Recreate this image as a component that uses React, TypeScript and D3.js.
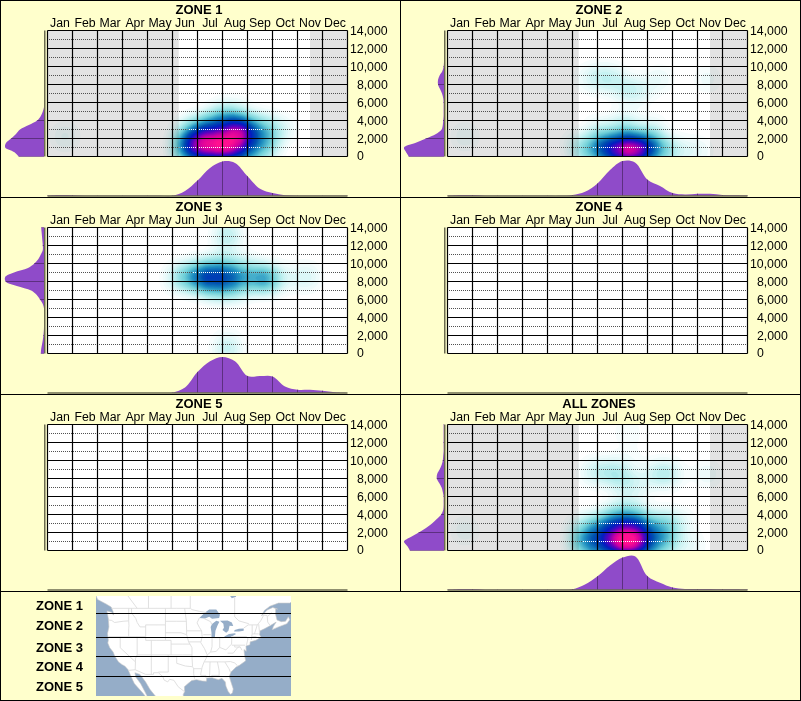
import * as d3 from "d3";
import * as React from "react";

type Kernel = [number, number, number]; // month position, elevation, weight

const MONTHS = ["Jan", "Feb", "Mar", "Apr", "May", "Jun", "Jul", "Aug", "Sep", "Oct", "Nov", "Dec"];
const ELEV_TICKS = [0, 2000, 4000, 6000, 8000, 10000, 12000, 14000];
const ELEV_DOTTED = [1000, 3000, 5000, 7000, 9000, 11000, 13000];

// side curve samples, elevation 0..14000 by 500
const ELEV_STEPS = d3.range(0, 14001, 500);
const zone1Left = [63, 75, 97, 95, 82, 70, 60, 38, 17, 8, 3, 0, 0, 0, 0, 0, 0, 0, 0, 0, 0, 0, 0, 0, 0, 0, 0, 0, 0];
const zone2Left = [88, 95, 100, 72, 45, 20, 6, 3, 2, 1, 1, 1, 1, 2, 5, 10, 15, 15, 11, 4, 1, 0, 0, 0, 0, 0, 0, 0, 0];
const zone3Left = [8, 7, 5, 3, 1.5, 0.5, 0, 0, 0, 0, 0, 3, 10, 18, 32, 68, 96, 97, 75, 40, 24, 14, 8, 3, 3, 4, 5, 6, 7];
const allLeft = [85, 92, 100, 83, 63, 45, 30, 18, 7, 2, 1, 1, 1, 3, 6, 12, 18, 17, 11, 6, 3, 2, 1, 1, 1, 1, 1, 1, 1];

// bottom curve samples, month position 0..12 by 0.5
const MONTH_STEPS = d3.range(0, 12.01, 0.5);
const zone1Bottom = [1, 2.5, 2, 1, 0.5, 0.5, 0.5, 0.5, 0.5, 0.5, 0.5, 14, 43, 78, 96, 92, 55, 20, 8, 2, 1, 0.5, 0.5, 0.5, 0.5];
const zone2Bottom = [1, 3, 2.5, 1, 0.5, 0.5, 0.5, 0.5, 0.5, 0.5, 3, 12, 35, 72, 97, 93, 45, 28, 8, 4, 6, 6, 3, 2, 1];
const zone3Bottom = [0, 0, 0, 0, 0, 0, 0, 0, 0, 0, 1, 15, 58, 88, 100, 88, 47, 47, 46, 18, 9, 9, 6, 2, 0];
const allBottom = [1, 3, 2.5, 1, 0.5, 0.5, 0.5, 0.5, 0.5, 0.5, 2, 15, 38, 68, 90, 94, 38, 20, 7, 3, 3, 3, 2, 2, 1];

// heat kernels
const zone1Kernels: Kernel[] = [
  [6.1, 500, 0.4], [6.8, 500, 0.32], [7.5, 500, 0.32], [8.0, 500, 0.35],
  [6.1, 2500, 0.35], [6.8, 2500, 0.3], [7.5, 2500, 0.28], [8.0, 2500, 0.35],
  [6.5, 3500, 0.25], [7.1, 3500, 0.25], [7.7, 3500, 0.25],
  [6.5, 1200, 0.45], [7.1, 1100, 0.5], [7.7, 2600, 0.28], [7.4, 1300, 0.15], [6.0, 1500, 0.2],
  [5.5, 1500, 0.3], [5.6, 300, 0.25], [8.7, 2000, 0.25], [8.6, 3400, 0.2], [9.4, 3000, 0.1], [5.7, 3000, 0.15],
  [7, 4800, 0.12], [7.6, 4800, 0.1], [8.7, 500, 0.15], [0.7, 2200, 0.08],
];
const zone2Kernels: Kernel[] = [
  [6.9, 500, 0.55], [7.5, 500, 0.55], [7.2, 800, 0.3], [6.3, 700, 0.5], [8.0, 700, 0.5],
  [6.3, 2000, 0.15], [7.2, 2200, 0.22], [8, 2000, 0.15], [5.6, 700, 0.25], [8.7, 700, 0.25], [5.1, 1200, 0.08],
  [6, 3000, 0.08], [7, 3300, 0.12], [8.2, 3000, 0.08], [9.5, 600, 0.07], [10.1, 600, 0.06], [7.3, 4700, 0.02],
  [6.0, 8700, 0.11], [6.6, 8700, 0.11], [7.1, 7400, 0.1], [7.7, 7400, 0.1],
  [8.5, 8600, 0.07], [10.4, 8600, 0.06], [5.5, 8700, 0.04], [0.7, 2200, 0.07],
];
const zone3Kernels: Kernel[] = [
  [6.1, 8000, 0.22], [6.6, 8000, 0.25], [7.2, 8000, 0.22], [7.7, 8000, 0.15],
  [6.1, 9000, 0.22], [6.6, 9000, 0.25], [7.2, 9000, 0.22], [7.7, 9000, 0.15],
  [5.5, 8500, 0.25], [5, 8300, 0.05],
  [8.4, 8300, 0.3], [8.9, 8300, 0.3], [10.4, 8500, 0.1], [9.8, 8500, 0.05],
  [6.8, 6800, 0.1], [7.5, 6800, 0.08], [7, 10300, 0.08], [8, 10000, 0.05],
  [7.2, 13500, 0.12], [7.2, 12500, 0.07], [7.2, 300, 0.12], [7.2, 1200, 0.05],
];
const allKernels: Kernel[] = [
  [6.0, 500, 0.38], [6.7, 500, 0.4], [7.4, 500, 0.4], [8.0, 500, 0.38],
  [6.0, 2500, 0.35], [6.7, 2500, 0.38], [7.4, 2500, 0.38], [8, 2500, 0.35],
  [6.7, 3600, 0.22], [7.4, 3600, 0.22], [7.2, 1000, 0.55], [6.6, 1000, 0.3], [7.6, 1000, 0.2],
  [5.4, 800, 0.3], [5.4, 2500, 0.1], [8.7, 800, 0.25], [8.7, 2300, 0.18], [8.7, 3300, 0.12], [9.4, 3100, 0.07],
  [9.7, 500, 0.08], [0.7, 2200, 0.07], [7, 5000, 0.04], [7.5, 4800, 0.04],
  [5.8, 8700, 0.1], [6.4, 8700, 0.12], [6.9, 8700, 0.1], [7.0, 7400, 0.08], [7.6, 7400, 0.08],
  [8.4, 8500, 0.12], [8.9, 8500, 0.12],
  [10.4, 8500, 0.07], [7.2, 13200, 0.05], [7.3, 10300, 0.03], [5.3, 2300, 0.04],
];

// months with no growing season, shaded grey
const seasonBands: [number, number][] = [[0, 5.25], [10.5, 12]];

const PANELS = [
  { name: "ZONE 1", col: 0, row: 0, left: zone1Left, bottom: zone1Bottom, kernels: zone1Kernels, bands: seasonBands },
  { name: "ZONE 2", col: 1, row: 0, left: zone2Left, bottom: zone2Bottom, kernels: zone2Kernels, bands: seasonBands },
  { name: "ZONE 3", col: 0, row: 1, left: zone3Left, bottom: zone3Bottom, kernels: zone3Kernels, bands: [] },
  { name: "ZONE 4", col: 1, row: 1, left: null, bottom: null, kernels: [], bands: [] },
  { name: "ZONE 5", col: 0, row: 2, left: null, bottom: null, kernels: [], bands: [] },
  { name: "ALL ZONES", col: 1, row: 2, left: allLeft, bottom: allBottom, kernels: allKernels, bands: seasonBands },
];

// map outlines, lon/lat
const landOutline: [number, number][] = [
  [-130, 54], [-128, 51], [-125, 50], [-123.2, 49.3], [-122.5, 48.2], [-122.4, 47.4], [-123, 48.1], [-124.7, 48.4],
  [-124.2, 46.5], [-124, 44.5], [-124.5, 42.8], [-124.2, 41], [-124.4, 40.3], [-123.7, 39], [-122.5, 37.8],
  [-121.9, 36.6], [-120.6, 35], [-119.3, 34.2], [-118.4, 33.8], [-117.2, 32.7], [-116.1, 30.5], [-115, 28.5],
  [-114, 27.5], [-112, 25.5], [-110, 23.2], [-110.3, 24.2], [-111.3, 26], [-112.8, 28.5], [-114.5, 30.5],
  [-114.8, 31.8], [-113, 31.3], [-111, 29], [-109.5, 26.7], [-108, 25], [-106, 23], [-105, 21], [-100, 17], [-95, 16],
  [-94.5, 18.2], [-96, 19.5], [-97.5, 22], [-97.7, 25], [-97.2, 26], [-97.3, 27.5], [-96, 28.5], [-94.7, 29.4],
  [-93, 29.7], [-91, 29.3], [-89.5, 29.2], [-89.4, 30.2], [-87.5, 30.3], [-85.3, 29.7], [-84, 30.1], [-82.8, 29],
  [-82.6, 27.7], [-81.8, 26], [-81, 25.1], [-80.3, 25.5], [-80, 26.8], [-81, 29.5], [-81.4, 30.7], [-80.8, 32],
  [-79, 33.5], [-77.8, 34], [-75.6, 35.3], [-76, 36.9], [-76.2, 38.5], [-75.4, 38], [-75.5, 39.5], [-74.1, 39.8],
  [-74, 40.6], [-72, 41], [-70.7, 41.6], [-70, 41.7], [-70.7, 42.5], [-70.5, 43.5], [-69, 44], [-67, 44.8], [-66, 45.2],
  [-64.8, 45.7], [-65.8, 44.6], [-66.2, 43.8], [-64, 44.5], [-61, 45.3], [-60, 46.3], [-60.5, 47], [-61.5, 45.9],
  [-63, 45.8], [-64.5, 46.2], [-65, 47.5], [-65, 49], [-64.3, 48.8], [-66, 49.2], [-68, 48.6], [-70, 47.2], [-69, 48.5],
  [-67, 49.5], [-64, 50.2], [-60, 50.2], [-56, 52], [-56, 60], [-135, 60],
];
const lakes: [number, number][][] = [
  [[-92, 46.7], [-90, 46.6], [-88.5, 47], [-87.5, 46.5], [-85, 46.7], [-84.7, 47.5], [-86, 48.7], [-88.5, 48.7], [-90, 48]],
  [[-87.7, 41.7], [-86.5, 41.8], [-86.3, 43.5], [-85.5, 45], [-84.9, 45.8], [-86, 46], [-87.5, 45.2], [-88, 44.5], [-87.7, 43]],
  [[-84.7, 46], [-83.5, 45.3], [-83.3, 44.3], [-83.8, 43.7], [-82.5, 43], [-81.7, 43.5], [-81.3, 44.8], [-80, 44.7], [-80.5, 45.6], [-82, 46.1]],
  [[-83.4, 41.7], [-81.5, 41.6], [-79, 42.7], [-79.5, 42.9], [-81.5, 42.7], [-83, 42.1]],
  [[-79.7, 43.3], [-78, 43.3], [-76.3, 43.5], [-76.3, 44.1], [-78, 44], [-79.5, 43.7]],
  [[-82, 56], [-82, 52.5], [-80.5, 51.3], [-79, 51.6], [-79, 56]],
];
const borders: [number, number][][] = [
  [[-123, 49], [-115, 49], [-107, 49], [-100, 49], [-95.15, 49], [-94.6, 48.7], [-92, 48.3], [-89.5, 48]],
  [[-124, 46.2], [-123, 46.1], [-122, 45.6], [-119, 45.9], [-117, 46]],
  [[-117, 49], [-117, 46], [-116.9, 44.8], [-117, 44], [-117, 42]],
  [[-124.2, 42], [-118, 42], [-111, 42]],
  [[-120, 42], [-120, 39], [-114.6, 35], [-114.7, 32.7]],
  [[-114, 42], [-114, 37], [-114.6, 36], [-114.6, 35]],
  [[-117.1, 32.5], [-114.7, 32.7], [-111, 31.3], [-108.2, 31.3], [-108.2, 31.8], [-106.5, 31.8], [-104.9, 30.6], [-104.5, 29.6], [-103.2, 29], [-102.5, 29.8], [-101, 29.5], [-99.5, 27.5], [-97.2, 25.9]],
  [[-116, 49], [-116, 47.9], [-114.5, 46.6], [-114, 45.6], [-113, 44.5], [-111, 44.5]],
  [[-111, 45], [-107, 45], [-104, 45], [-104, 41], [-107, 41], [-111, 41], [-111, 45]],
  [[-104, 49], [-104, 45]],
  [[-104, 45.9], [-100, 45.9], [-96.6, 45.9]],
  [[-104, 43], [-98.5, 43], [-96.5, 42.5]],
  [[-102, 40], [-98, 40], [-95.3, 40]],
  [[-104, 41], [-102, 41], [-102, 37]],
  [[-109, 41], [-109, 37], [-109, 31.3]],
  [[-114, 37], [-109, 37], [-103, 37], [-98, 37], [-94.6, 37]],
  [[-103, 37], [-103, 32], [-106.5, 32]],
  [[-103, 36.5], [-100, 36.5], [-100, 34.6], [-97, 33.8], [-94.5, 33.6]],
  [[-97.2, 49], [-96.6, 46], [-96.5, 43.5], [-96.5, 42.5], [-95.8, 40.6], [-95.3, 40], [-94.6, 39], [-94.6, 36.5], [-94.4, 33.6], [-94, 33], [-94, 31.5], [-93.7, 30]],
  [[-96.5, 43.5], [-91.2, 43.5]],
  [[-95.8, 40.6], [-91.5, 40.6]],
  [[-92, 46.7], [-92.8, 45.5], [-92, 44.4], [-91.2, 43.5], [-91, 42], [-91.5, 40.4], [-90.2, 38.8], [-89.2, 37], [-89.6, 36], [-90.3, 35], [-91, 33.5], [-91.5, 31.5], [-91.5, 31], [-89.7, 31], [-89.6, 30.2]],
  [[-94.6, 36.5], [-90.1, 36.5], [-89.5, 36.5], [-81.7, 36.6], [-75.9, 36.6]],
  [[-94, 33], [-91.2, 33]],
  [[-90.6, 42.5], [-87.8, 42.5]],
  [[-90.4, 46.6], [-88, 45.8], [-87.6, 45.1]],
  [[-87.5, 41.7], [-87.5, 39.3], [-88, 37.8]],
  [[-84.8, 41.7], [-84.8, 39.1]],
  [[-87, 41.7], [-83.5, 41.7]],
  [[-89.2, 37], [-88, 37.8], [-86, 38], [-84.8, 39.1], [-82.6, 38.4], [-80.6, 40], [-80.5, 42]],
  [[-80.5, 42], [-79.8, 42], [-75.3, 42], [-74.8, 41.4], [-75.3, 39.8]],
  [[-80.5, 39.7], [-75.8, 39.7]],
  [[-90.2, 35], [-84.3, 35], [-83, 35], [-81, 35.1], [-79.5, 34.7], [-78.5, 33.9]],
  [[-88.2, 35], [-88.4, 30.3]],
  [[-85.6, 35], [-85, 32.5], [-85, 31], [-87.6, 31], [-87.5, 30.3]],
  [[-85, 31], [-84.9, 30.7], [-82.2, 30.6], [-81.5, 30.7]],
  [[-83, 35], [-81.5, 33], [-81, 32]],
  [[-82, 37.5], [-80, 37.5], [-78.5, 39], [-77.7, 39.3]],
  [[-79.5, 39.7], [-79.5, 39.2], [-77.5, 39.2], [-76.9, 38.3]],
  [[-73.3, 45], [-73.3, 42.7], [-73.5, 42], [-73.6, 41.1]],
  [[-73.3, 42.7], [-71, 42.7]],
  [[-73.5, 42], [-71.8, 42]],
  [[-71.5, 45], [-72.5, 42.7]],
  [[-71, 45.2], [-70.7, 43.1]],
  [[-76.3, 44.2], [-74.7, 45], [-71.5, 45], [-70.3, 46], [-69.2, 47.4], [-68, 47.3], [-67.8, 45.7], [-67, 44.9]],
  [[-120, 60], [-120, 54], [-114, 49]],
  [[-110, 60], [-110, 49]],
  [[-102, 60], [-102, 49]],
  [[-95.2, 49], [-95.2, 52.8], [-89, 56.8]],
  [[-79.5, 51.5], [-79.5, 47], [-78, 46], [-74.5, 45.3]],
  [[-67.8, 47.1], [-66.3, 48]],
];

const ZONE_KEYS = ["ZONE 1", "ZONE 2", "ZONE 3", "ZONE 4", "ZONE 5"];

const FONT = "'Liberation Sans', Arial, sans-serif";
const PAPER = "#ffffcc";
const PURPLE = "#8f4bc9";
const PURPLE_LINE = "#5c2f80";
const OLIVE = "#6b6b50";
const SEA = "#95adc8";
const GRID_W = 1.2;

const COL_W = 400;
const ROW_H = 197;
const BANDWIDTH = 9;
const NORM = 2 * Math.PI * BANDWIDTH * BANDWIDTH;

const x = d3.scaleLinear().domain([0, 12]).range([47.5, 347.5]);
const y = d3.scaleLinear().domain([0, 14000]).range([156.5, 30.5]);
const leftX = d3.scaleLinear().domain([0, 100]).range([44, 4]);
const bottomY = d3.scaleLinear().domain([0, 100]).range([196, 160]);

const heatColor = d3
  .scaleLinear<string>()
  .domain([0, 0.06, 0.15, 0.3, 0.45, 0.6, 0.75, 0.9, 1.05, 1.2])
  .range(["#ffffff", "#e6f9f9", "#b8eeee", "#70d0d8", "#2090c0", "#0050b0", "#0020c0", "#6000c0", "#d000a0", "#ff1090"])
  .clamp(true);

const LEVELS = d3.range(0.02, 1.6, 0.02);
const WHITE_DOT_LEVEL = 0.42;

const heatDensity = d3
  .contourDensity<Kernel>()
  .x((d) => x(d[0]))
  .y((d) => y(d[1]))
  .weight((d) => d[2])
  .size([360, 180])
  .cellSize(2)
  .bandwidth(BANDWIDTH);

const contourPath = d3.geoPath();

const projection = d3.geoMercator().scale(161.9).translate([459.3, 767.6]);
const mapPath = d3.geoPath(projection);

const ring = (pts: [number, number][]) => {
  // d3 wants clockwise rings for the inside of a polygon
  const closed = [...pts, pts[0]];
  const g: any = { type: "Polygon", coordinates: [closed] };
  return d3.geoArea(g) > 2 * Math.PI ? { type: "Polygon", coordinates: [closed.slice().reverse()] } : g;
};

function Panel({ panel, index }: { panel: (typeof PANELS)[number]; index: number }) {
  const id = `p${index}`;
  const contours = panel.kernels.length ? heatDensity.thresholds(LEVELS.map((v) => v / NORM))(panel.kernels) : [];
  const hot = panel.kernels.length
    ? heatDensity.thresholds([WHITE_DOT_LEVEL / NORM])(panel.kernels)[0]
    : null;

  const leftArea = panel.left
    ? d3
        .area<number>()
        .y((_, i) => y(ELEV_STEPS[i]))
        .x0(leftX(0))
        .x1((d) => leftX(d))
        .curve(d3.curveCatmullRom)(panel.left)
    : null;
  const bottomArea = panel.bottom
    ? d3
        .area<number>()
        .x((_, i) => x(MONTH_STEPS[i]))
        .y0(bottomY(0))
        .y1((d) => bottomY(d))
        .curve(d3.curveCatmullRom)(panel.bottom)
    : null;

  return (
    <g transform={`translate(${panel.col * COL_W},${panel.row * ROW_H})`}>
      <defs>
        <clipPath id={`${id}-plot`}>
          <rect x={x(0)} y={y(14000)} width={x(12) - x(0)} height={y(0) - y(14000)} />
        </clipPath>
        {hot && (
          <clipPath id={`${id}-hot`}>
            <path d={contourPath(hot as any) || ""} />
          </clipPath>
        )}
        {leftArea && (
          <clipPath id={`${id}-left`}>
            <path d={leftArea} />
          </clipPath>
        )}
        {bottomArea && (
          <clipPath id={`${id}-bottom`}>
            <path d={bottomArea} />
          </clipPath>
        )}
      </defs>

      <text x={199} y={14} textAnchor="middle" fontWeight="bold" fontSize={13}>
        {panel.name}
      </text>
      {MONTHS.map((m, i) => (
        <text key={m} x={x(i + 0.5)} y={27} textAnchor="middle" fontSize={12.3}>
          {m}
        </text>
      ))}

      <rect x={x(0)} y={y(14000)} width={x(12) - x(0)} height={y(0) - y(14000)} fill="#fff" />
      {panel.bands.map(([a, b]) => (
        <rect key={a} x={x(a)} y={y(14000)} width={x(b) - x(a)} height={y(0) - y(14000)} fill="#e3e3e3" />
      ))}

      <g clipPath={`url(#${id}-plot)`} style={{ mixBlendMode: "multiply" }}>
        {contours.map((c) => (
          <path key={c.value} d={contourPath(c as any) || ""} fill={heatColor(c.value * NORM)} />
        ))}
      </g>

      {ELEV_DOTTED.map((e) => (
        <line key={e} x1={47} x2={348} y1={y(e)} y2={y(e)} stroke="#505050" strokeDasharray="1 1" />
      ))}
      {hot && (
        <g clipPath={`url(#${id}-hot)`}>
          {ELEV_DOTTED.map((e) => (
            <line key={e} x1={47} x2={348} y1={y(e)} y2={y(e)} stroke="#fff" strokeDasharray="1 1" />
          ))}
        </g>
      )}
      {ELEV_TICKS.map((e) => (
        <line key={e} x1={x(0)} x2={x(12)} y1={y(e)} y2={y(e)} stroke="#000" strokeWidth={GRID_W} />
      ))}
      {d3.range(0, 13).map((m) => (
        <line key={m} x1={x(m)} x2={x(m)} y1={y(14000)} y2={y(0)} stroke="#000" strokeWidth={GRID_W} />
      ))}
      {ELEV_TICKS.map((e) => (
        <text key={e} x={e >= 10000 ? 350 : 357} y={e === 0 ? y(e) + 3.5 : y(e) + 4.5} fontSize={12.3}>
          {d3.format(",")(e)}
        </text>
      ))}

      {leftArea && <path d={leftArea} fill={PURPLE} />}
      {leftArea && (
        <g clipPath={`url(#${id}-left)`}>
          {ELEV_TICKS.map((e) => (
            <line key={e} x1={0} x2={44} y1={y(e)} y2={y(e)} stroke={PURPLE_LINE} shapeRendering="crispEdges" />
          ))}
        </g>
      )}
      {bottomArea && <path d={bottomArea} fill={PURPLE} />}
      {bottomArea && (
        <g clipPath={`url(#${id}-bottom)`}>
          {d3.range(0, 13).map((m) => (
            <line key={m} x1={x(m)} x2={x(m)} y1={150} y2={196} stroke={PURPLE_LINE} shapeRendering="crispEdges" />
          ))}
        </g>
      )}

      <line x1={44.75} x2={44.75} y1={y(14000)} y2={y(0)} stroke={OLIVE} strokeWidth={1.5} />
      <line x1={x(0)} x2={x(12)} y1={196} y2={196} stroke={OLIVE} strokeWidth={1.5} />
    </g>
  );
}

function MapKey() {
  return (
    <g>
      <defs>
        <clipPath id="map-clip">
          <rect x={96} y={596} width={195} height={100} />
        </clipPath>
      </defs>
      {ZONE_KEYS.map((z, i) => (
        <text key={z} x={36} y={[610, 630, 652, 671, 691][i]} fontWeight="bold" fontSize={13}>
          {z}
        </text>
      ))}
      <rect x={96} y={596} width={195} height={100} fill={SEA} />
      <g clipPath="url(#map-clip)">
        <path d={mapPath(ring(landOutline) as any) || ""} fill="#fff" stroke="#c8c8c8" strokeWidth={0.6} />
        {lakes.map((l, i) => (
          <path key={i} d={mapPath(ring(l) as any) || ""} fill={SEA} />
        ))}
        <path d={mapPath({ type: "MultiLineString", coordinates: borders } as any) || ""} fill="none" stroke="#dcdcdc" strokeWidth={0.9} />
      </g>
      {[613, 637, 656, 676].map((l) => (
        <line key={l} x1={96} x2={291} y1={l + 0.5} y2={l + 0.5} stroke="#000" />
      ))}
    </g>
  );
}

export default function App() {
  return (
    <svg width={801} height={701} style={{ position: "absolute", left: 0, top: 0 }} fontFamily={FONT}>
      <rect x={0.5} y={0.5} width={800} height={700} fill={PAPER} stroke="#000" />
      {PANELS.map((p, i) => (
        <Panel key={p.name} panel={p} index={i} />
      ))}
      <line x1={400.5} x2={400.5} y1={0} y2={591} stroke="#000" shapeRendering="crispEdges" />
      {[197, 394, 591].map((r) => (
        <line key={r} x1={0} x2={801} y1={r + 0.5} y2={r + 0.5} stroke="#000" shapeRendering="crispEdges" />
      ))}
      <MapKey />
    </svg>
  );
}
